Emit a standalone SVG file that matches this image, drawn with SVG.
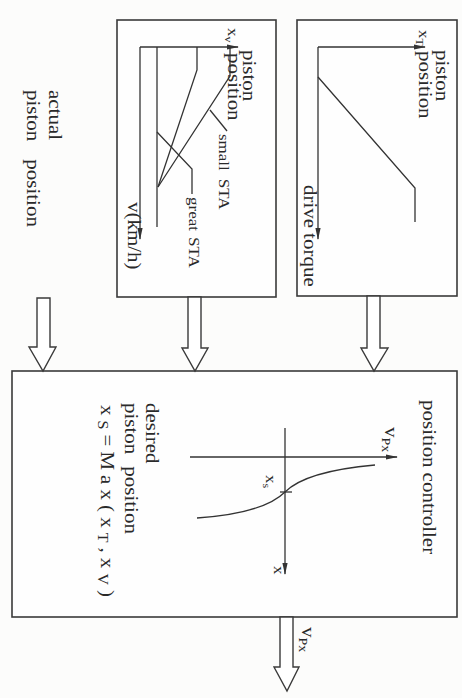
<svg xmlns="http://www.w3.org/2000/svg" width="462" height="698" viewBox="0 0 462 698">
<defs>
<style>
.bg{fill:#fcfcfb}
.box{fill:#fefefe;stroke:#3a3a3a;stroke-width:1.6}
.ln{fill:none;stroke:#333;stroke-width:1.3}
.ax{fill:none;stroke:#333;stroke-width:1.3;marker-end:url(#ah)}
.ha{fill:#fff;stroke:#3a3a3a;stroke-width:1.4;stroke-linejoin:miter}
text{font-family:"Liberation Serif","Times New Roman",serif;fill:#2a2a2a;font-size:21px}
.sm{font-size:17px}
</style>
<marker id="ah" viewBox="0 0 12 6" refX="11" refY="3" markerWidth="12" markerHeight="6" markerUnits="userSpaceOnUse" orient="auto">
<path d="M0,0.4 L12,3 L0,5.6 z" fill="#333"/>
</marker>
</defs>
<rect class="bg" x="0" y="0" width="462" height="698"/>

<g id="node-sta-chart">
<rect class="box" x="117" y="20" width="159" height="277"/>
<line class="ax" x1="140" y1="47" x2="140" y2="239"/>
<line class="ax" x1="140" y1="47" x2="238" y2="47"/>
<line class="ln" x1="157" y1="47" x2="157" y2="227"/>
<polyline class="ln" points="230,47 230,76 158,187"/>
<polyline class="ln" points="197,47 197,70 158,187"/>
<polyline class="ln" points="210,110 227,131"/>
<polyline class="ln" points="157,132 192,169 192,194"/>
<text transform="translate(243,50) rotate(90) scale(1,0.85)">piston</text>
<text transform="translate(228,28) rotate(90) scale(1,0.85)" class="sm">x<tspan font-size="12" dy="4">v</tspan></text>
<text transform="translate(228,53) rotate(90) scale(1,0.85)">position</text>
<text transform="translate(219,134) rotate(90) scale(1,0.85)" class="sm">small<tspan dx="8">STA</tspan></text>
<text transform="translate(189,197) rotate(90) scale(1,0.85)" class="sm">great<tspan dx="6">STA</tspan></text>
<text transform="translate(128,202) rotate(90) scale(1,0.85)" font-size="23">v(km/h)</text>
</g>

<g id="node-torque-chart">
<rect class="box" x="297" y="20" width="160" height="276"/>
<line class="ax" x1="318" y1="47" x2="318" y2="239"/>
<line class="ax" x1="318" y1="47" x2="425" y2="47"/>
<polyline class="ln" points="318,77 415,188 415,222"/>
<text transform="translate(436,50) rotate(90) scale(1,0.85)">piston</text>
<text transform="translate(419,30) rotate(90) scale(1,0.85)" class="sm">x<tspan font-size="12" dy="4">T</tspan></text>
<text transform="translate(419,51) rotate(90) scale(1,0.85)">position</text>
<text transform="translate(304,185) rotate(90) scale(1,0.85)">drive<tspan dx="5">torque</tspan></text>
</g>

<g id="node-actual-position">
<text transform="translate(49,90) rotate(90) scale(1,0.85)" font-size="23">actual</text>
<text transform="translate(27,90) rotate(90) scale(1,0.85)" font-size="24">piston<tspan dx="18">position</tspan></text>
</g>

<g id="node-position-controller">
<rect class="box" x="12" y="371" width="445" height="246"/>
<text transform="translate(423,400) rotate(90) scale(1,0.85)">position<tspan dx="5">controller</tspan></text>
<line class="ax" x1="190" y1="457" x2="397" y2="457"/>
<line class="ax" x1="285" y1="428" x2="285" y2="574"/>
<path class="ln" d="M375,465 C330,469 300,477 285,492 C270,507 240,515 197,518"/>
<line class="ln" x1="280" y1="492" x2="292" y2="492"/>
<text transform="translate(385,427) rotate(90) scale(1,0.85)" font-size="19">v<tspan font-size="14" dy="4">Px</tspan></text>
<text transform="translate(266,475) rotate(90) scale(1,0.85)" class="sm">x<tspan font-size="12" dy="4">s</tspan></text>
<text transform="translate(274,566) rotate(90) scale(1,0.85)" class="sm">x</text>
<text transform="translate(146,403) rotate(90) scale(1,0.85)">desired</text>
<text transform="translate(125,403) rotate(90) scale(1,0.85)">piston<tspan dx="12">position</tspan></text>
<text transform="translate(101,405) rotate(90) scale(1,0.85)" font-size="23" textLength="192" lengthAdjust="spacing">x<tspan font-size="16" dy="4">S</tspan><tspan dy="-4">=Max(x</tspan><tspan font-size="16" dy="4">T</tspan><tspan dy="-4">,x</tspan><tspan font-size="16" dy="4">V</tspan><tspan dy="-4">)</tspan></text>
</g>

<g id="connectors">
<polygon class="ha" points="37,298 50,298 50,347 56,347 43,371 29,347 37,347"/>
<polygon class="ha" points="188,297 201,297 201,348 208,348 195,371 182,348 188,348"/>
<polygon class="ha" points="367,296 380,296 380,348 388,348 374,371 361,348 367,348"/>
<polygon class="ha" points="280,617 293,617 293,667 299,667 287,691 274,667 280,667"/>
<text transform="translate(302,627) rotate(90) scale(1,0.85)" font-size="18">v<tspan font-size="14" dy="4">Px</tspan></text>
</g>
</svg>
